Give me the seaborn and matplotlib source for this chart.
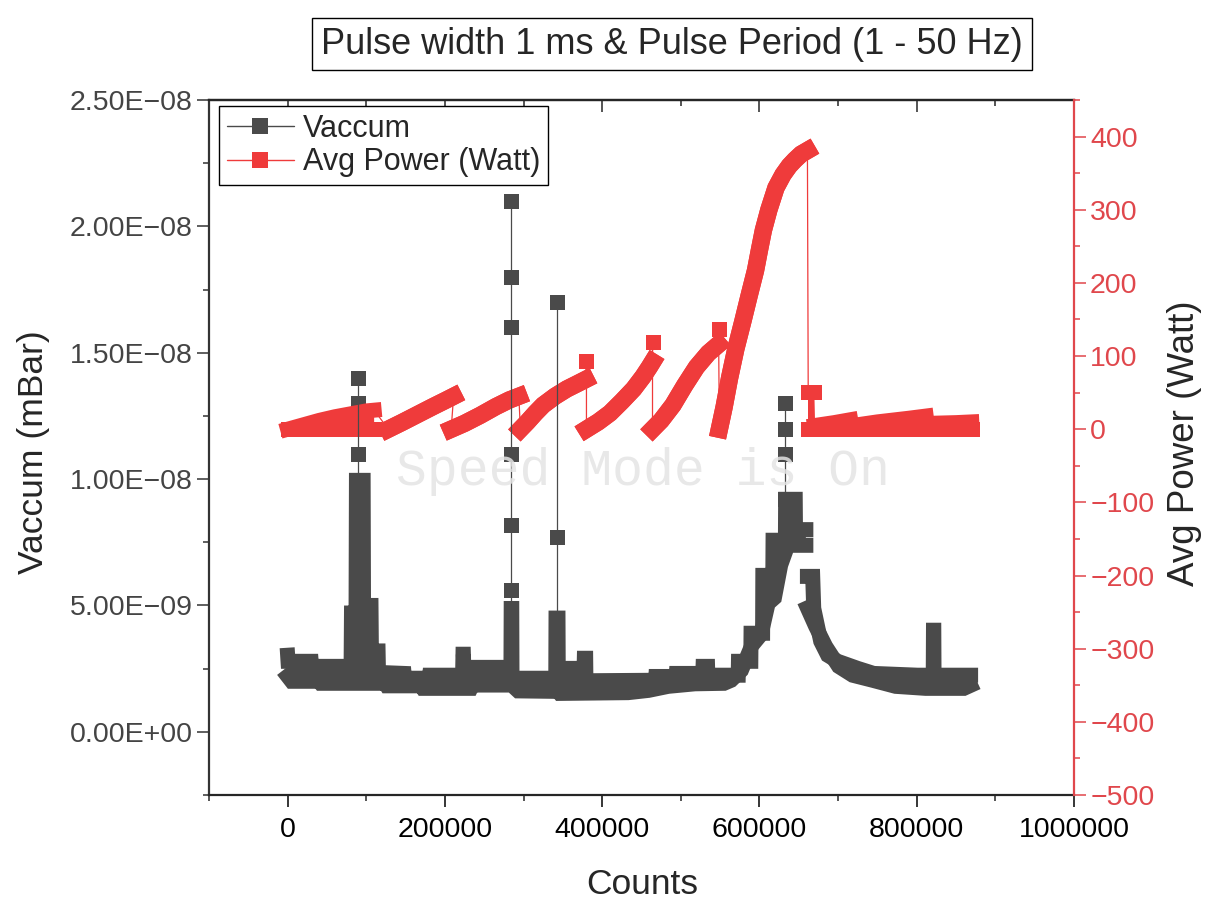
import matplotlib
matplotlib.use("Agg")
import numpy as np
import pandas as pd
import matplotlib.pyplot as plt
from matplotlib.lines import Line2D
from matplotlib.ticker import MultipleLocator, FuncFormatter
import seaborn as sns

sns.set_style("ticks")
plt.rcParams['font.family'] = ['Liberation Sans', 'DejaVu Sans']

VAC_COLOR = '#4a4a4a'
POW_COLOR = '#ef3b3b'
AXIS_RED = '#e0474c'
BAND = 10.8   # symbol size in points (~15 px)
RAMP = 12.5   # power ramps look a bit fatter

# ---- Vaccum (mBar, in units of 1e-9) ----
# main band: upper edge
vac_up_counts = [0, 500, 29900, 30400, 80700, 81200, 87000, 87500, 96000, 96500,
                 106000, 106500, 115000, 115500, 148000, 148500, 180000, 180500, 222500, 223000,
                 223500, 224000, 284000, 284300, 285000, 285300, 341000, 341300, 343800, 344100,
                 377000, 377300, 379000, 379300, 468000, 468300, 494000, 494300, 528000, 528300,
                 534000, 534300, 573000, 573300, 589000, 589300, 604000, 604300, 617000, 617300,
                 633000, 633300, 645500, 645800, 659000]
vac_up = [3.03, 2.79, 2.79, 2.59, 2.59, 4.70, 4.70, 9.95, 9.95, 5.00,
          5.00, 3.20, 3.20, 2.35, 2.31, 2.12, 2.12, 2.24, 2.24, 3.07,
          3.07, 2.55, 2.55, 4.88, 4.88, 2.12, 2.12, 4.50, 4.50, 2.51,
          2.51, 2.91, 2.91, 2.02, 2.04, 2.19, 2.19, 2.31, 2.31, 2.59,
          2.59, 2.24, 2.24, 2.79, 2.79, 3.90, 3.90, 6.19, 6.19, 7.58,
          7.58, 9.20, 9.20, 8.00, 8.00]
# main band: lower edge
vac_low_counts = [0, 5000, 40000, 42000, 124000, 126000, 170000, 172000, 233000, 235000,
                  285000, 293000, 344000, 346000, 433000, 459000, 484000, 518000, 555000, 564000,
                  577000, 590000, 602000, 611000, 619000, 627000, 636000, 659000]
vac_low = [2.20, 2.00, 2.00, 1.92, 1.92, 1.82, 1.82, 1.72, 1.72, 1.85,
           1.85, 1.62, 1.60, 1.52, 1.55, 1.64, 1.80, 1.90, 1.92, 2.04,
           2.43, 3.40, 3.85, 5.08, 5.30, 6.60, 7.38, 7.38]

# decay after the big peak
flank_up_counts = [661000, 667700, 669000, 677900, 686800, 699500, 724900, 745200, 801100, 821000,
                   821300, 821700, 822000, 868500]
flank_up = [6.15, 6.15, 4.89, 3.58, 3.03, 2.79, 2.51, 2.31, 2.24, 2.24,
            4.02, 4.02, 2.24, 2.24]
flank_low_counts = [661000, 671500, 684200, 700700, 718500, 743900, 773100, 811200, 860000, 868500]
flank_low = [4.90, 4.17, 3.38, 2.59, 2.24, 2.04, 1.80, 1.72, 1.72, 1.84]

# isolated high readings (spikes)
spike_id = [1] * 5 + [2] * 7 + [3] * 3 + [4] * 4
spike_counts = [89500] * 5 + [284000] * 7 + [343000] * 3 + [633000] * 4
spike_vals = [9.95, 11.0, 12.0, 13.0, 14.0,
              4.88, 5.6, 8.2, 11.0, 16.0, 18.0, 21.0,
              4.5, 7.7, 17.0,
              9.2, 11.0, 12.0, 13.0]

# ---- Avg Power (Watt): ordered trace, lower edge and segment ----
pow_seg = (['A'] * 7 + ['B'] * 6 + ['C'] * 6 + ['D'] * 8 + ['o1'] + ['E'] * 8 + ['o2']
           + ['F'] * 7 + ['o3'] + ['G'] * 16 + ['H0'] * 2 + ['H1'] * 3 + ['H2'] * 4 + ['H3'] * 3)
pow_counts = [0, 20000, 40000, 60000, 80000, 100000, 110000,
              128000, 145000, 165000, 185000, 200000, 211000,
              208000, 225000, 245000, 265000, 282000, 294000,
              296000, 305000, 315000, 325000, 340000, 355000, 368000, 379000,
              380000,
              380000, 395000, 410000, 425000, 440000, 452000, 460000, 464000,
              464000,
              464000, 475000, 490000, 505000, 520000, 535000, 548000,
              548000,
              549000, 555000, 562000, 570000, 579000, 587000, 595000, 600000,
              605000, 612000, 621000, 630000, 638000, 645000, 653000, 661000,
              662000, 669000,
              670000, 695000, 716000,
              718000, 750000, 790000, 812000,
              816000, 850000, 870000]
pow_watts = [0, 6, 12, 17, 21, 25, 26,
             0, 9, 20, 31, 39, 45,
             0, 8, 19, 31, 40, 45,
             0, 10, 22, 33, 45, 55, 62, 68,
             93,
             0, 10, 22, 38, 55, 72, 85, 92,
             119,
             0, 12, 33, 60, 85, 104, 116,
             137,
             0, 30, 70, 110, 148, 183, 217, 245,
             272, 300, 330, 348, 360, 368, 376, 381,
             51, 51,
             5, 9, 13,
             5, 10, 15, 18,
             8, 9, 10]
# lower edge of the power band: the blocks at the start and the end sit on 0 W
pow_floor = [0] * 7 + pow_watts[7:61] + [0] * 12
pow_blocks = ['A', 'H0', 'H1', 'H2', 'H3']

x_major = 200000
vac_ticks = 5e-9
pow_ticks = 100

fig = plt.figure(figsize=(12.08, 9.18), dpi=100)
ax = fig.add_axes([209 / 1208, 1 - 795 / 918, 865 / 1208, 695 / 918])
ax2 = ax.twinx()


def draw_band(axis, ux, uy, lx, ly, color, lw, z=2):
    ux, uy, lx, ly = map(np.asarray, (ux, uy, lx, ly))
    axis.fill(np.r_[ux, lx[::-1]], np.r_[uy, ly[::-1]], color=color, lw=0, zorder=z)
    for ex, ey in ((ux, uy), (lx, ly)):
        sns.lineplot(x=ex, y=ey, ax=axis, color=color, lw=lw, sort=False,
                     estimator=None, solid_capstyle='projecting',
                     solid_joinstyle='miter', zorder=z)


# Vaccum bands
e9 = 1e-9
draw_band(ax, vac_up_counts, np.array(vac_up) * e9, vac_low_counts, np.array(vac_low) * e9,
          VAC_COLOR, BAND)
draw_band(ax, flank_up_counts, np.array(flank_up) * e9, flank_low_counts, np.array(flank_low) * e9,
          VAC_COLOR, BAND)

spikes = pd.DataFrame({'counts': spike_counts, 'vac': np.array(spike_vals) * e9, 'id': spike_id})
ax.scatter(spikes['counts'], spikes['vac'], marker='s', s=BAND ** 2, color=VAC_COLOR,
           linewidths=0, zorder=3)

# Avg power
pw = pd.DataFrame({'counts': pow_counts, 'watts': pow_watts, 'floor': pow_floor, 'seg': pow_seg})
for seg, d in pw.groupby('seg', sort=False):
    if seg.startswith('o'):
        continue
    lw = BAND if seg in pow_blocks else RAMP
    draw_band(ax2, d['counts'], d['watts'], d['counts'], d['floor'], POW_COLOR, lw)
out = pw[pw['seg'].str.startswith('o')]
ax2.scatter(out['counts'], out['watts'], marker='s', s=BAND ** 2, color=POW_COLOR,
            linewidths=0, zorder=3)
sns.lineplot(data=pw, x='counts', y='watts', ax=ax2, sort=False, estimator=None,
             color=POW_COLOR, lw=0.9, zorder=4)

# thin connecting lines of the vaccum spikes, drawn above the power band
for sid, d in spikes.groupby('id'):
    ax2.plot(d['counts'], d['vac'], color=VAC_COLOR, lw=0.9, zorder=5, transform=ax.transData)

# ---- axes ----
ax.set_xlim(-100000, 1000000)
ax.set_ylim(-2.5e-9, 2.5e-8)
ax2.set_ylim(-500, 450)
for a in (ax, ax2):
    a.set_xlabel('')
    a.set_ylabel('')

ax.xaxis.set_major_locator(MultipleLocator(x_major))
ax.xaxis.set_minor_locator(MultipleLocator(x_major / 2))
ax.xaxis.set_major_formatter(FuncFormatter(lambda v, p: f"{int(round(v))}"))
ax.yaxis.set_major_locator(MultipleLocator(vac_ticks))
ax.yaxis.set_minor_locator(MultipleLocator(vac_ticks / 2))
ax.yaxis.set_major_formatter(FuncFormatter(lambda v, p: f"{v:.2E}".replace('-', '\u2212')))
ax2.yaxis.set_major_locator(MultipleLocator(pow_ticks))
ax2.yaxis.set_minor_locator(MultipleLocator(pow_ticks / 2))
ax2.yaxis.set_major_formatter(FuncFormatter(lambda v, p: f"{int(round(v))}".replace('-', '\u2212')))

ax.tick_params(axis='x', which='major', direction='out', length=8.6, width=1.1,
               labelsize=20.5, pad=7, colors='black')
ax.tick_params(axis='x', which='minor', direction='out', length=4.3, width=1.1)
ax.tick_params(axis='y', which='major', direction='out', length=8.6, width=1.1,
               labelsize=20.5, pad=3, color='#333333', labelcolor='#444444')
ax.tick_params(axis='y', which='minor', direction='out', length=4.3, width=1.1, color='#333333')
ax2.tick_params(axis='y', which='major', direction='out', length=8.6, width=1.1,
                labelsize=20.5, pad=3, colors=AXIS_RED)
ax2.tick_params(axis='y', which='minor', direction='out', length=4.3, width=1.1, colors=AXIS_RED)

sec = ax.secondary_xaxis('top')
sec.xaxis.set_major_locator(MultipleLocator(x_major))
sec.xaxis.set_minor_locator(MultipleLocator(x_major / 2))
sec.tick_params(which='major', direction='in', length=8.6, width=1.1, labeltop=False)
sec.tick_params(which='minor', direction='in', length=4.3, width=1.1)
sec.spines['top'].set_linewidth(1.6)

for s in ('left', 'bottom', 'top'):
    ax.spines[s].set_linewidth(1.6)
    ax2.spines[s].set_visible(False)
ax.spines['left'].set_color('#333333')
ax.spines['right'].set_visible(False)
ax2.spines['right'].set_color(AXIS_RED)
ax2.spines['right'].set_linewidth(1.6)

# ---- texts ----
fig.text(34 / 1208, 1 - 452 / 918, 'Vaccum (mBar)', rotation=90, ha='center', va='center',
         fontsize=25.5)
fig.text(1185 / 1208, 1 - 443 / 918, 'Avg Power (Watt)', rotation=90, ha='center', va='center',
         fontsize=26.5)
fig.text(642 / 1208, 1 - 884 / 918, 'Counts', ha='center', va='center', fontsize=25.5)
fig.text(672 / 1208, 1 - 44 / 918, 'Pulse width 1 ms & Pulse Period (1 - 50 Hz)',
         ha='center', va='center', fontsize=26,
         bbox=dict(boxstyle='square,pad=0.24', fc='white', ec='black', lw=1.0))
fig.text(643 / 1208, 1 - 472 / 918, 'Speed Mode is On', ha='center', va='center',
         family='Liberation Mono', fontsize=37, color='#e4e4e4', alpha=0.85, zorder=10)

handles = [Line2D([0], [0], color=VAC_COLOR, lw=1, marker='s', markersize=12, markeredgewidth=0),
           Line2D([0], [0], color=POW_COLOR, lw=1, marker='s', markersize=12, markeredgewidth=0)]
leg = ax2.legend(handles, ['Vaccum', 'Avg Power (Watt)'], loc='upper left',
                 bbox_to_anchor=(10 / 865, 1 - 6 / 695), borderaxespad=0, fontsize=22,
                 frameon=True, fancybox=False, edgecolor='black', framealpha=1,
                 borderpad=0.25, labelspacing=0.12, handlelength=2.2, handletextpad=0.3)
leg.get_frame().set_linewidth(1.0)
leg.set_zorder(20)

fig.savefig('out.png', dpi=100)
